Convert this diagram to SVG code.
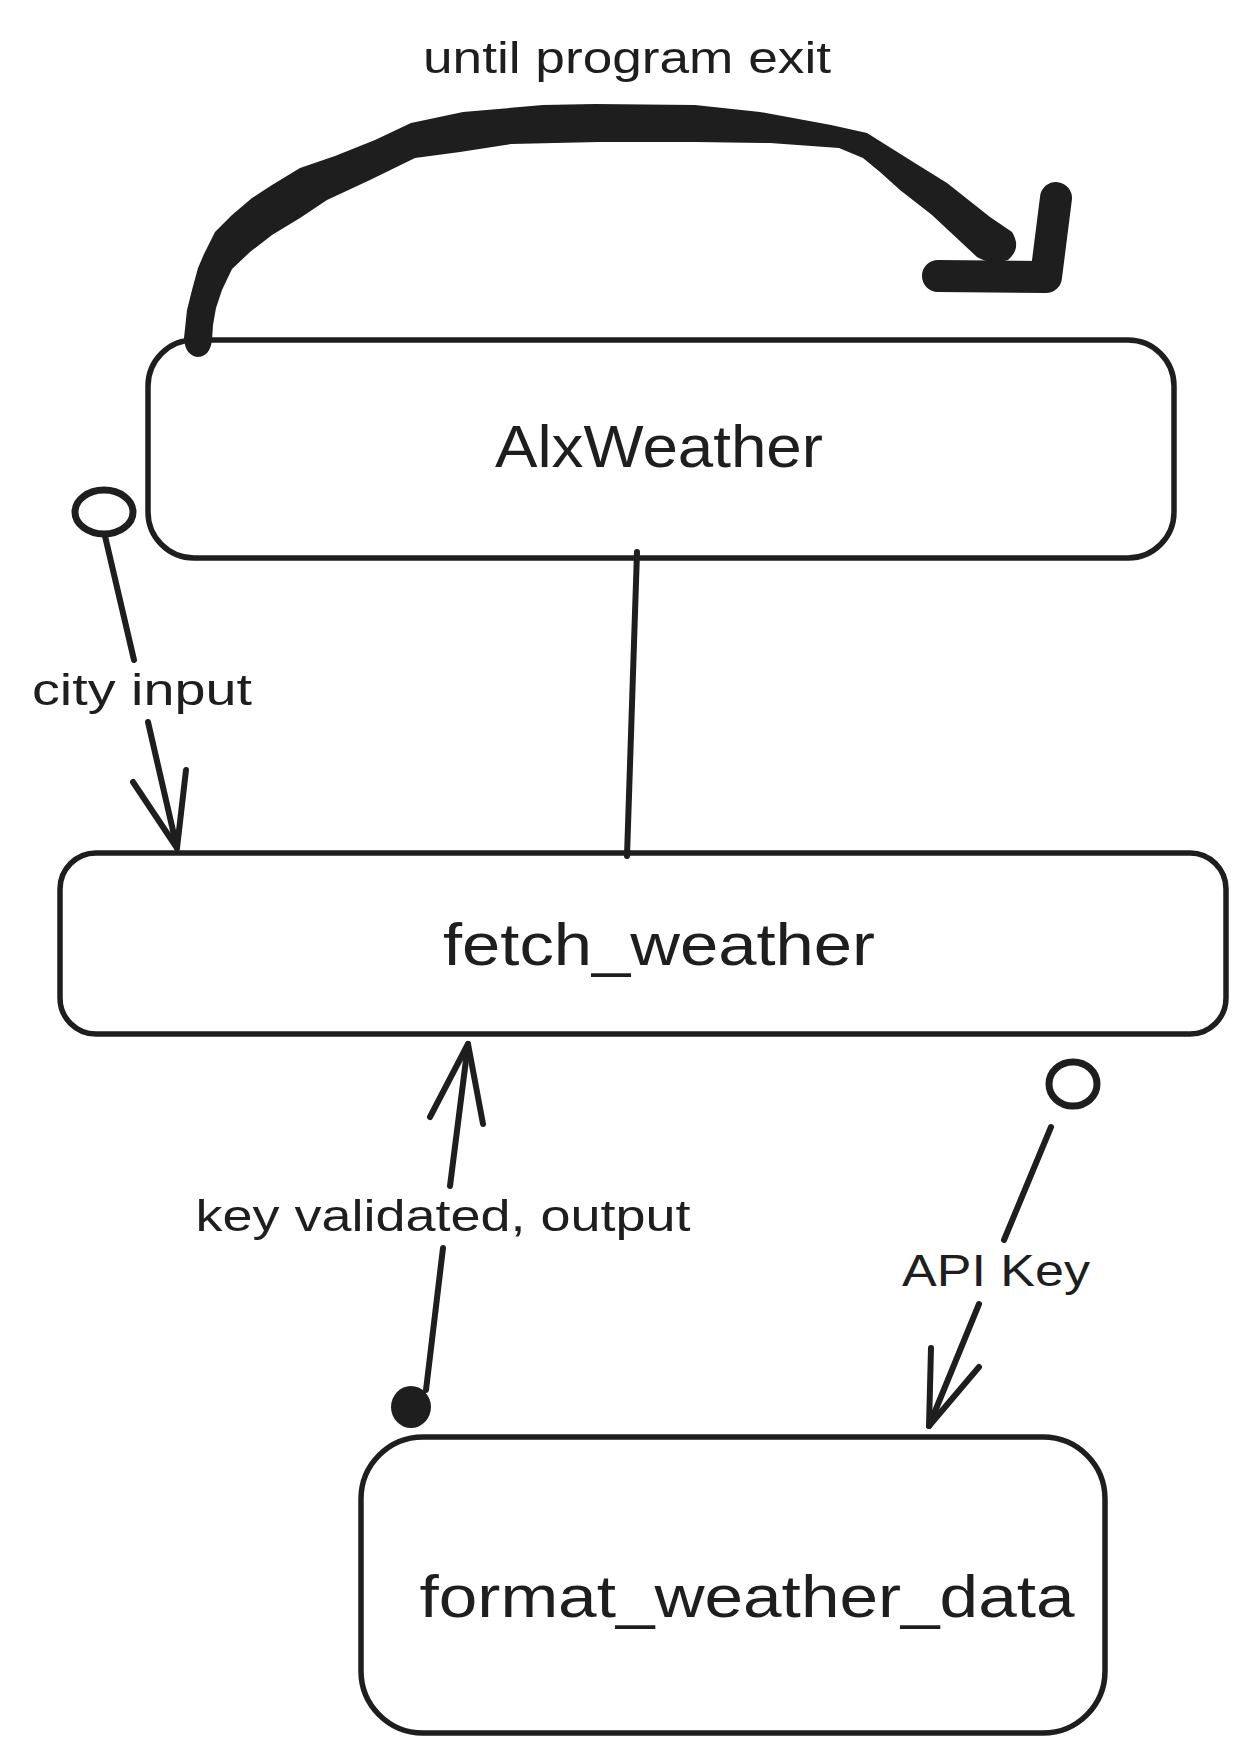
<svg xmlns="http://www.w3.org/2000/svg" width="1246" height="1764" viewBox="0 0 1246 1764">
<style>
.node{fill:#ffffff;stroke:#1e1e1e;stroke-width:5.5;}
.ntext{font-family:"Liberation Sans",Arial,sans-serif;font-size:60px;fill:#1e1e1e;text-anchor:middle;}
.ltext{font-family:"Liberation Sans",Arial,sans-serif;font-size:44px;fill:#1e1e1e;text-anchor:middle;}
.edge{fill:none;stroke:#1e1e1e;stroke-width:6;stroke-linecap:round;stroke-linejoin:round;}
.thick{fill:none;stroke:#1e1e1e;stroke-width:32;stroke-linecap:round;stroke-linejoin:round;}
</style>
<rect width="1246" height="1764" fill="#ffffff"/>
<g id="node-alxweather">
<rect class="node" x="148" y="340" width="1026" height="218" rx="46" ry="46"/>
<text class="ntext" x="659" y="467" textLength="328" lengthAdjust="spacingAndGlyphs">AlxWeather</text>
</g>
<g id="node-fetch-weather">
<rect class="node" x="60" y="853" width="1166" height="181" rx="36" ry="36"/>
<text class="ntext" x="659" y="965" textLength="432" lengthAdjust="spacingAndGlyphs">fetch_weather</text>
</g>
<g id="node-format-weather-data">
<rect class="node" x="361" y="1437" width="744" height="296" rx="62" ry="62"/>
<text class="ntext" x="747" y="1617" textLength="655" lengthAdjust="spacingAndGlyphs">format_weather_data</text>
</g>
<g id="connectors">
<!-- loop arrow -->
<path fill="#1e1e1e" d="M184,338 L187,310 L192,290 L198,268 L204,254 L215,232 L232,215 L252,198 L272,185 L300,168 L335,156 L375,140 L411,123 L463,112 L543,105 L595,104 L695,105 L760,112 L831,125 L867,133 L910,160 L947,183 L990,217 L1012,232 Q1022,248 1008,260 Q992,266 977,257 L932,215 L900,190 L880,172 L863,158 L839,148 L770,143 L695,142 L599,142 L511,144 L460,152 L415,158 L370,180 L327,200 L300,218 L272,235 L250,252 L232,269 L222,290 L216,308 L213,325 L212,340 Q210,357 197,357 Q185,355 184,338 Z"/>
<path class="thick" d="M1056,198 L1046,277 L938,276"/>
<text class="ltext" x="627" y="73" textLength="408" lengthAdjust="spacingAndGlyphs">until program exit</text>
<!-- AlxWeather to fetch_weather -->
<path class="edge" d="M637,552 L627,856"/>
<!-- city input -->
<ellipse cx="104" cy="512" rx="29" ry="22" fill="none" stroke="#1e1e1e" stroke-width="7"/>
<path class="edge" d="M105,536 L134,660"/>
<path class="edge" d="M148,722 L177,848"/>
<path class="edge" d="M133,782 L177,848 L186,770"/>
<text class="ltext" x="142" y="705" textLength="220" lengthAdjust="spacingAndGlyphs">city input</text>
<!-- key validated, output -->
<ellipse cx="411" cy="1407" rx="20" ry="21" fill="#1e1e1e"/>
<path class="edge" d="M426,1390 L443,1248"/>
<path class="edge" d="M450,1186 L468,1044"/>
<path class="edge" d="M430,1117 L468,1044 L483,1124"/>
<text class="ltext" x="443" y="1231" textLength="495" lengthAdjust="spacingAndGlyphs">key validated, output</text>
<!-- API Key -->
<ellipse cx="1073" cy="1084" rx="24" ry="22" fill="none" stroke="#1e1e1e" stroke-width="7"/>
<path class="edge" d="M1051,1127 L1004,1240"/>
<path class="edge" d="M979,1304 L929,1426"/>
<path class="edge" d="M931,1348 L929,1426 L979,1367"/>
<text class="ltext" x="996" y="1286" textLength="188" lengthAdjust="spacingAndGlyphs">API Key</text>
</g>
</svg>
